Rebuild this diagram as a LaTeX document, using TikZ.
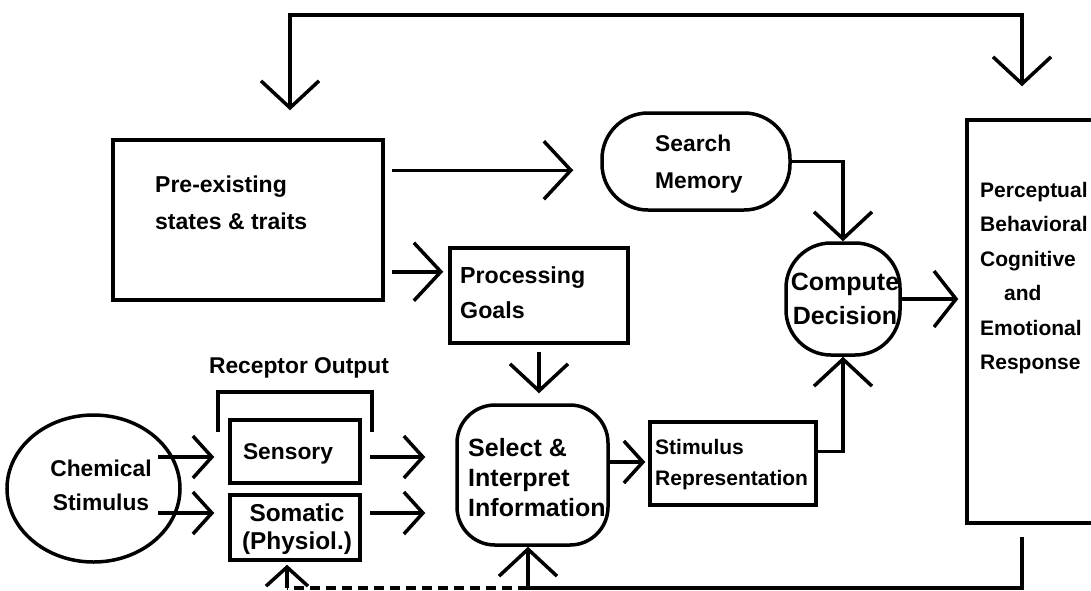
\documentclass[tikz,border=0pt]{standalone}
\usepackage{fontspec}
\setmainfont{Liberation Sans}
\usetikzlibrary{arrows.meta,shapes.geometric}
\tikzset{
  bigtip/.tip={Straight Barb[length=27pt,width=58pt]},
  midtip/.tip={Straight Barb[length=22pt,width=56pt]},
  smalltip/.tip={Straight Barb[length=19pt,width=42pt]},
  box/.style={draw, line width=3.5pt, inner sep=0pt, rectangle},
  txt/.style={inner sep=0pt, anchor=north west, align=left},
  conn/.style={line width=3.5pt},
  dashconn/.style={line width=3.5pt, dash pattern=on 10pt off 6pt}
}
\newcommand{\fs}[2]{\fontsize{#1}{#2}\selectfont\bfseries}
\begin{document}
\begin{tikzpicture}[x=1pt,y=-1pt]
\path[use as bounding box] (0,0) rectangle (1091,590);
\clip (0,0) rectangle (1091,590);

% boxes
\node[box, minimum width=270pt, minimum height=160pt] (pre) at (248,220) {};
\node[box, rounded corners=46pt, minimum width=188pt, minimum height=97pt] (search) at (696,161.5) {};
\node[box, minimum width=178pt, minimum height=95pt] (proc) at (539,295.5) {};
\node[box, rounded corners=38pt, minimum width=151pt, minimum height=140pt] (sel) at (532.5,475) {};
\node[box, minimum width=166pt, minimum height=83pt] (stim) at (733,463.5) {};
\node[box, rounded corners=45pt, minimum width=114pt, minimum height=112pt] (comp) at (843,299) {};
\node[box, minimum width=143pt, minimum height=403pt] (resp) at (1038.5,321.5) {};
\node[draw, line width=3.5pt, ellipse, inner sep=0pt, minimum width=173pt, minimum height=147pt] (chem) at (93.5,488.5) {};
\node[box, minimum width=130pt, minimum height=63pt] (sens) at (295,451.5) {};
\node[box, minimum width=130pt, minimum height=65pt] (som) at (295,527.5) {};

% texts
\node[txt, font=\fs{23}{37}] (pretxt) at (155,175.5) {Pre-existing\\states \& traits};
\node[txt, font=\fs{22.8}{37}] (memtxt) at (655,134.5) {Search\\Memory};
\node[txt, font=\fs{23.2}{35}] (proctxt) at (460,266.5) {Processing\\Goals};
\node[txt, font=\fs{25}{30}] (seltxt) at (468,438) {Select \&\\Interpret\\Information};
\node[txt, font=\fs{21}{31}] (stimtxt) at (655,439.5) {Stimulus\\Representation};
\node[inner sep=0pt, anchor=north, align=center, font=\fs{25}{34}] (comptxt) at (845,273) {Compute\\Decision};
\node[txt, font=\fs{21}{34.5}] (resptxt) at (980,182) {Perceptual\\Behavioral\\Cognitive\\\hspace*{24pt}and\\Emotional\\Response};
\node[inner sep=0pt, anchor=base, font=\fs{22.8}{26}] (rectxt) at (299,373.5) {Receptor Output};
\node[inner sep=0pt, anchor=north, align=center, font=\fs{22.8}{34}] (chemtxt) at (101,459.5) {Chemical\\Stimulus};
\node[inner sep=0pt, anchor=base, font=\fs{22.8}{26}] (senstxt) at (288,459.5) {Sensory};
\node[inner sep=0pt, anchor=north, align=center, font=\fs{24.4}{28}] (somtxt) at (297,503.5) {Somatic\\(Physiol.)};

% receptor output bracket
\coordinate (brl) at (218,432);
\coordinate (brr) at (372,432);
\draw[conn] (brl) -- (218,392) -- (372,392) -- (brr);

% helper coordinates
\coordinate (tl) at (290,15);
\coordinate (tr) at (1022,15);
\coordinate (bj) at (528,588);
\path ([yshift=-32pt]pre.north east) coordinate (a1);
\path ([yshift=30pt]pre.south east) coordinate (a2);
\path ([yshift=12pt]stim.east) coordinate (a3);
\path ([yshift=13pt]sel.east) coordinate (a4);
\path ([yshift=-5.5pt]sens.west) coordinate (s1);
\path ([yshift=14.5pt]som.west) coordinate (s2);
\path ([xshift=64.5pt]chem.center) coordinate (cin);
\path ([xshift=-8pt]som.south) coordinate (somb);

% connectors
\draw[conn, bigtip-bigtip, shorten <=28pt, shorten >=32pt] (tl |- pre.north) -- (tl) -- (tr) -- (tr |- resp.north);
\draw[conn, -bigtip, shorten <=7pt, shorten >=27pt] (a1) -- (a1 -| search.west);
\draw[conn, -bigtip, shorten <=7pt, shorten >=5pt] (a2) -- (a2 -| proc.west);
\draw[conn, -bigtip, shorten <=7pt, shorten >=10pt] (proc.south) -- (proc.south |- sel.north);
\draw[conn, -bigtip] (search.east) -| (comp.north);
\draw[conn, -bigtip] (a3) -| (comp.south);
\draw[conn, -midtip, shorten >=7pt] (comp.east) -- (comp.east -| resp.west);
\draw[conn, -smalltip, shorten >=3pt] (a4) -- (a4 -| stim.west);
\draw[conn, -smalltip, shorten >=14pt] (s1 -| cin) -- (s1);
\draw[conn, -smalltip, shorten >=14pt] (s2 -| cin) -- (s2);
\draw[conn, -smalltip, shorten <=8pt, shorten >=30pt] (s1 -| sens.east) -- (s1 -| sel.west);
\draw[conn, -smalltip, shorten <=8pt, shorten >=30pt] (s2 -| som.east) -- (s2 -| sel.west);
\draw[conn, -bigtip, shorten <=12pt] (tr |- resp.south) -- (tr |- bj) -- (bj) -- (bj |- sel.south);
\draw[dashconn] (bj) -- (somb |- bj);
\draw[conn, -smalltip, shorten >=3pt] (somb |- bj) -- (somb);
\end{tikzpicture}
\end{document}
